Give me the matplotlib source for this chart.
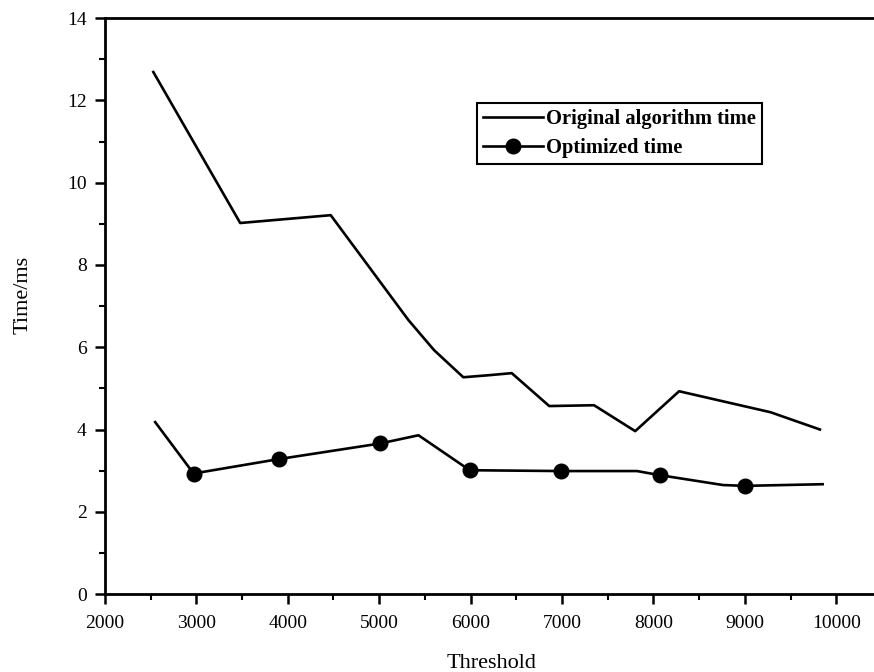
import matplotlib
matplotlib.use("Agg")
import matplotlib.pyplot as plt
from matplotlib.ticker import MultipleLocator

# values
orig_x = [2530, 3480, 4470, 5320, 5600, 5920, 6200, 6450, 6860, 7350, 7800, 8280, 9280, 9820]
orig_y = [12.69, 9.02, 9.21, 6.66, 5.93, 5.27, 5.32, 5.37, 4.57, 4.59, 3.96, 4.93, 4.42, 4.00]

opt_x = [2550, 2970, 3900, 5010, 5430, 5990, 6990, 7820, 8070, 8760, 9000, 9850]
opt_y = [4.18, 2.93, 3.28, 3.66, 3.86, 3.01, 2.99, 2.99, 2.89, 2.65, 2.63, 2.67]
opt_marked = [1, 2, 3, 5, 6, 8, 10]

x_ticks = [2000, 3000, 4000, 5000, 6000, 7000, 8000, 9000, 10000]
y_ticks = [0, 2, 4, 6, 8, 10, 12, 14]

plt.rcParams['font.family'] = ['Liberation Serif', 'DejaVu Serif']

fig = plt.figure(figsize=(8.74, 6.72), dpi=100)
ax = fig.add_axes([0.120, 0.116, 0.884, 0.857])

ax.plot(orig_x, orig_y, color='black', lw=1.9, label='Original algorithm time')
ax.plot(opt_x, opt_y, color='black', lw=1.9, marker='o', markersize=10.5,
        markevery=opt_marked, label='Optimized time')

ax.set_xlim(2000, 10450)
ax.set_ylim(0, 14)
ax.set_xticks(x_ticks)
ax.set_yticks(y_ticks)
ax.xaxis.set_minor_locator(MultipleLocator(500))
ax.yaxis.set_minor_locator(MultipleLocator(1))
ax.tick_params(which='major', direction='out', length=7, width=1.8, labelsize=14)
ax.tick_params(axis='x', pad=8)
ax.tick_params(axis='y', pad=6)
ax.tick_params(which='minor', direction='out', length=4.5, width=1.5)
ax.tick_params(top=False, right=False)

for side in ['left', 'bottom', 'top']:
    ax.spines[side].set_linewidth(2.0)
ax.spines['right'].set_visible(False)

ax.set_xlabel('Threshold', fontsize=16)
ax.set_ylabel('Time/ms', fontsize=16)
ax.xaxis.set_label_coords(0.5, -0.104)
ax.yaxis.set_label_coords(-0.094, 0.519)

leg = ax.legend(loc='upper left', bbox_to_anchor=(0.546, 0.847), bbox_transform=fig.transFigure,
                frameon=True, fancybox=False, edgecolor='black', framealpha=1,
                borderaxespad=0, handlelength=2.9, handletextpad=0.15, borderpad=0.3,
                labelspacing=0.45, prop={'family': 'Liberation Serif', 'weight': 'bold', 'size': 14.8})
leg.get_frame().set_linewidth(1.5)

plt.savefig('out.png', dpi=100)
plt.close()
